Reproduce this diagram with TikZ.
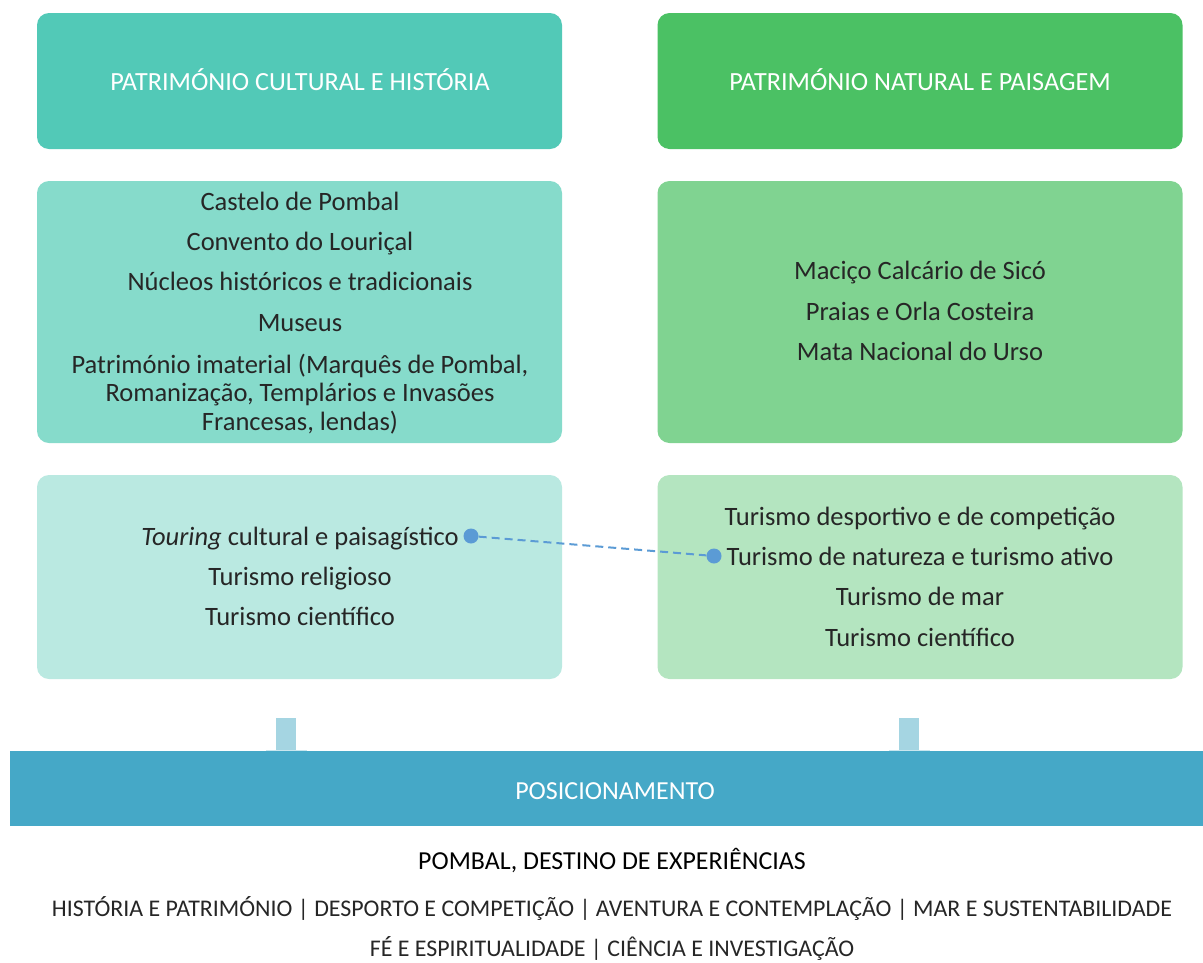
\documentclass[tikz,border=0pt]{standalone}
\usepackage{fontspec}
\setmainfont{Carlito}
\definecolor{hdrL}{HTML}{52C9B7}
\definecolor{hdrR}{HTML}{4BC164}
\definecolor{midL}{HTML}{86DBCB}
\definecolor{midR}{HTML}{80D391}
\definecolor{botL}{HTML}{BAE9E1}
\definecolor{botR}{HTML}{B4E5C0}
\definecolor{pillar}{HTML}{A5D5E2}
\definecolor{band}{HTML}{45A8C7}
\definecolor{ink}{HTML}{262626}
\definecolor{dotc}{HTML}{5B9BD5}
\tikzset{
  box/.style={rounded corners=12pt, minimum width=525pt, inner sep=0pt, draw=none},
  body/.style={inner sep=0pt, text=ink, font=\fontsize{26.5}{30}\selectfont, text height=25pt, text depth=6pt, anchor=center},
  hdr/.style={inner sep=0pt, text=white, font=\fontsize{26.2}{30}\selectfont, text height=25pt, text depth=6pt},
  foot/.style={inner sep=0pt, text=ink, font=\fontsize{23.9}{28}\selectfont, text height=19pt, text depth=2pt},
  dotn/.style={circle, fill=dotc, minimum size=15pt, inner sep=0pt},
  link/.style={dotc, line width=2pt, dash pattern=on 8pt off 5pt},
}
\begin{document}
\begin{tikzpicture}[x=1pt,y=-1pt]
\useasboundingbox (0,0) rectangle (1203,962);
% boxes
\node[box, fill=hdrL, minimum height=136pt] (hl) at (299.5,81) {};
\node[box, fill=hdrR, minimum height=136pt] (hr) at (920,81) {};
\node[box, fill=midL, minimum height=262pt] (ml) at (299.5,312) {};
\node[box, fill=midR, minimum height=262pt] (mr) at (920,312) {};
\node[box, fill=botL, minimum height=204pt] (bl) at (299.5,577) {};
\node[box, fill=botR, minimum height=204pt] (br) at (920,577) {};
% pillars
\fill[pillar] (276,718) rectangle (296,751);
\fill[pillar] (899,718) rectangle (919,751);
\fill[pillar!60!white] (266,749.5) rectangle (307,752);
\fill[pillar!60!white] (889,749.5) rectangle (930,752);
% band
\node[fill=band, minimum width=1193pt, minimum height=75pt, inner sep=0pt] (band) at (606.5,788.5) {};
% header texts
\node[hdr] (thl) at (300,81) {PATRIMÓNIO CULTURAL E HISTÓRIA};
\node[hdr] (thr) at (920,81) {PATRIMÓNIO NATURAL E PAISAGEM};
% left mid
\node[body] (c1) at (300,201) {Castelo de Pombal};
\node[body] (c2) at (300,241) {Convento do Louriçal};
\node[body] (c3) at (300,281) {Núcleos históricos e tradicionais};
\node[body] (c4) at (300,322) {Museus};
\node[body] (c5) at (300,364) {Património imaterial (Marquês de Pombal,};
\node[body] (c6) at (300,392) {Romanização, Templários e Invasões};
\node[body] (c7) at (300,421) {Francesas, lendas)};
% right mid
\node[body] (n1) at (920,270) {Maciço Calcário de Sicó};
\node[body] (n2) at (920,311) {Praias e Orla Costeira};
\node[body] (n3) at (920,351) {Mata Nacional do Urso};
% left bottom
\node[body] (t1) at (300,536) {\textit{Touring} cultural e paisagístico};
\node[body] (t2) at (300,576) {Turismo religioso};
\node[body] (t3) at (300,616) {Turismo científico};
% right bottom
\node[body] (r1) at (920,516) {Turismo desportivo e de competição};
\node[body] (r2) at (920,556) {Turismo de natureza e turismo ativo};
\node[body] (r3) at (920,596) {Turismo de mar};
\node[body] (r4) at (920,637) {Turismo científico};
% dots and link
\node[dotn] (d1) at (471,536) {};
\node[dotn] (d2) at (714,556) {};
\draw[link] (d1) -- (d2);
% band text
\node[hdr, font=\fontsize{26}{30}\selectfont] (pos) at (615,790) {POSICIONAMENTO};
% footer
\node[body, text=black, font=\fontsize{25.9}{30}\selectfont] (f1) at (612,860) {POMBAL, DESTINO DE EXPERIÊNCIAS};
\node[foot] (f2) at (612,908) {HISTÓRIA E PATRIMÓNIO | DESPORTO E COMPETIÇÃO | AVENTURA E CONTEMPLAÇÃO | MAR E SUSTENTABILIDADE};
\node[foot] (f3) at (612,948) {FÉ E ESPIRITUALIDADE | CIÊNCIA E INVESTIGAÇÃO};
\end{tikzpicture}
\end{document}
